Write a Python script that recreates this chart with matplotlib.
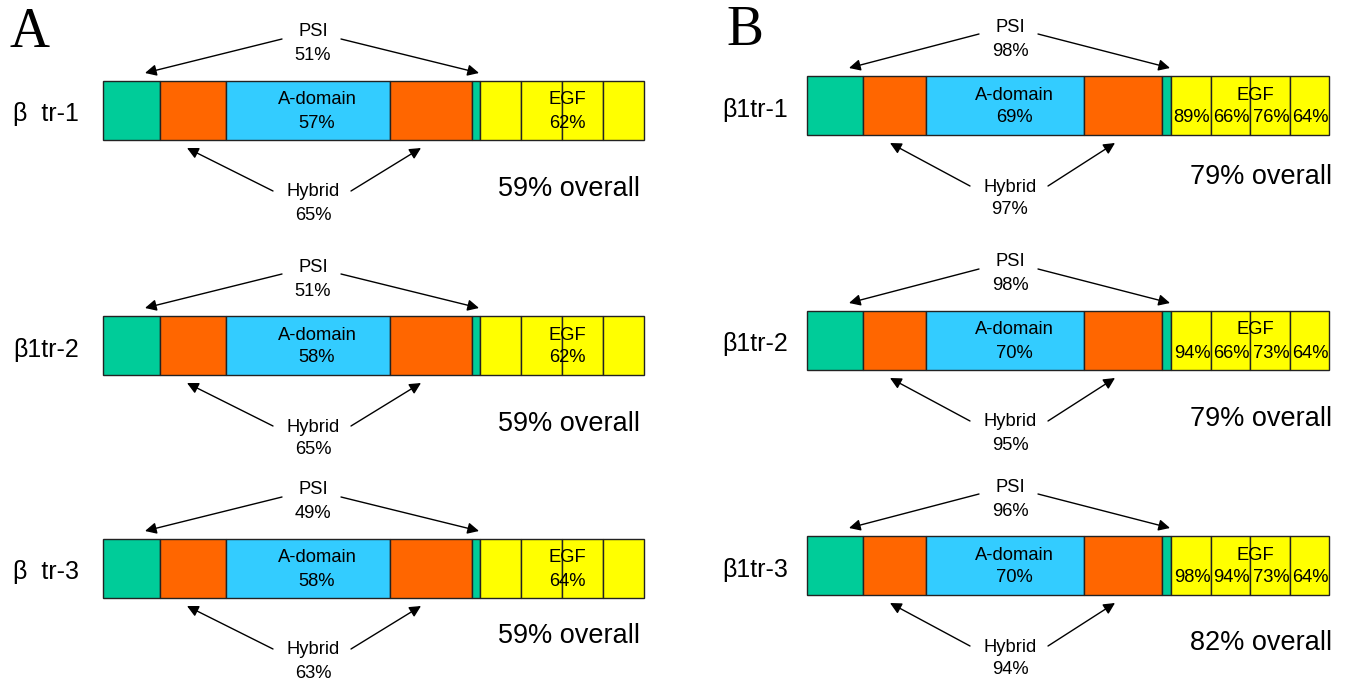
import numpy as np
import matplotlib.pyplot as plt

# domain lengths (drawn width) in each panel: PSI, hybrid, A-domain, hybrid, PSI, EGF x4
domains = ['PSI', 'Hybrid', 'A-domain', 'Hybrid', 'PSI2', 'EGF1', 'EGF2', 'EGF3', 'EGF4']
widths_a = [57, 66, 164, 82, 8, 41, 41, 41, 41]
widths_b = [56, 63, 158, 78, 9, 40, 39, 40, 39]
colors = ['#00CC99', '#FF6600', '#33CCFF', '#FF6600', '#00CC99',
          '#FFFF00', '#FFFF00', '#FFFF00', '#FFFF00']

labels_a = ['β  tr-1', 'β1tr-2', 'β  tr-3']
labels_b = ['β1tr-1', 'β1tr-2', 'β1tr-3']

psi_a = ['51%', '51%', '49%']
adom_a = ['57%', '58%', '58%']
egf_a = ['62%', '62%', '64%']
hyb_a = ['65%', '65%', '63%']
overall_a = ['59%', '59%', '59%']

psi_b = ['98%', '98%', '96%']
adom_b = ['69%', '70%', '70%']
egf_b = [['89%', '66%', '76%', '64%'],
         ['94%', '66%', '73%', '64%'],
         ['98%', '94%', '73%', '64%']]
hyb_b = ['97%', '95%', '94%']
overall_b = ['79%', '79%', '82%']

# layout (pixels)
BAR_H = 59
FS = 13.2
SANS = ['Liberation Sans', 'DejaVu Sans']
SERIF = ['Liberation Serif', 'DejaVu Serif']

fig = plt.figure(figsize=(13.46, 6.86), dpi=100)
ax = fig.add_axes([0, 0, 1, 1])
ax.set_xlim(0, 1346)
ax.set_ylim(686, 0)
ax.axis('off')


def arrow(x0, y0, x1, y1):
    ax.annotate('', xy=(x1, y1), xytext=(x0, y0),
                arrowprops=dict(arrowstyle='-|>', color='black', lw=1,
                                mutation_scale=17, shrinkA=0, shrinkB=0))


def draw_row(left, top, widths, label, label_x, psi, adom, egf, hyb,
             overall, overall_x, overall_y, center_x):
    lefts = left + np.concatenate([[0], np.cumsum(widths)[:-1]])
    yc = top + BAR_H / 2
    ax.barh(yc, widths, left=lefts, height=BAR_H, color=colors,
            edgecolor='#222222', linewidth=1)
    rights = lefts + np.array(widths)

    # row label
    ax.text(label_x, yc + 4, label, fontsize=18, family=SANS,
            ha='left', va='center')

    # A-domain
    ax.text((lefts[2] + rights[2]) / 2 + 9, top + 19, 'A-domain',
            fontsize=FS, family=SANS, ha='center', va='center')
    ax.text((lefts[2] + rights[2]) / 2 + 9, top + 42, adom,
            fontsize=FS, family=SANS, ha='center', va='center')

    # EGF
    ax.text(rights[6] + 5, top + 19, 'EGF', fontsize=FS, family=SANS,
            ha='center', va='center')
    if isinstance(egf, str):
        ax.text(rights[6] + 5, top + 42, egf, fontsize=FS, family=SANS,
                ha='center', va='center')
    else:
        for k, v in enumerate(egf):
            ax.text((lefts[5 + k] + rights[5 + k]) / 2 + 1, top + 42, v,
                    fontsize=FS, family=SANS, ha='center', va='center')

    # PSI annotation
    ax.text(center_x, top - 49, 'PSI', fontsize=FS, family=SANS,
            ha='center', va='center')
    ax.text(center_x, top - 25, psi, fontsize=FS, family=SANS,
            ha='center', va='center')
    arrow(center_x - 31, top - 42, lefts[0] + 42, top - 8)
    arrow(center_x + 28, top - 42, rights[4] - 1, top - 8)

    # Hybrid annotation
    ax.text(center_x, top + 111, 'Hybrid', fontsize=FS, family=SANS,
            ha='center', va='center')
    ax.text(center_x, top + 134, hyb, fontsize=FS, family=SANS,
            ha='center', va='center')
    arrow(center_x - 40, top + 110, lefts[1] + 27, top + BAR_H + 8)
    arrow(center_x + 38, top + 110, lefts[3] + 31, top + BAR_H + 8)

    ax.text(overall_x, overall_y, overall + ' overall', fontsize=19.5,
            family=SANS, ha='left', va='center')


tops_a = [81, 316, 539]
tops_b = [76, 311, 536]
overall_y_a = [189, 424, 636]
overall_y_b = [177, 419, 643]

for i in range(3):
    draw_row(103, tops_a[i], widths_a, labels_a[i], 13, psi_a[i], adom_a[i],
             egf_a[i], hyb_a[i], overall_a[i], 498, overall_y_a[i], 313)
    draw_row(807, tops_b[i], widths_b, labels_b[i], 722, psi_b[i], adom_b[i],
             egf_b[i], hyb_b[i], overall_b[i], 1190, overall_y_b[i], 1010)

ax.text(10, 33, 'A', fontsize=40, family=SERIF, ha='left', va='center')
ax.text(726, 31, 'B', fontsize=40, family=SERIF, ha='left', va='center')

fig.savefig('out.png', dpi=100)
